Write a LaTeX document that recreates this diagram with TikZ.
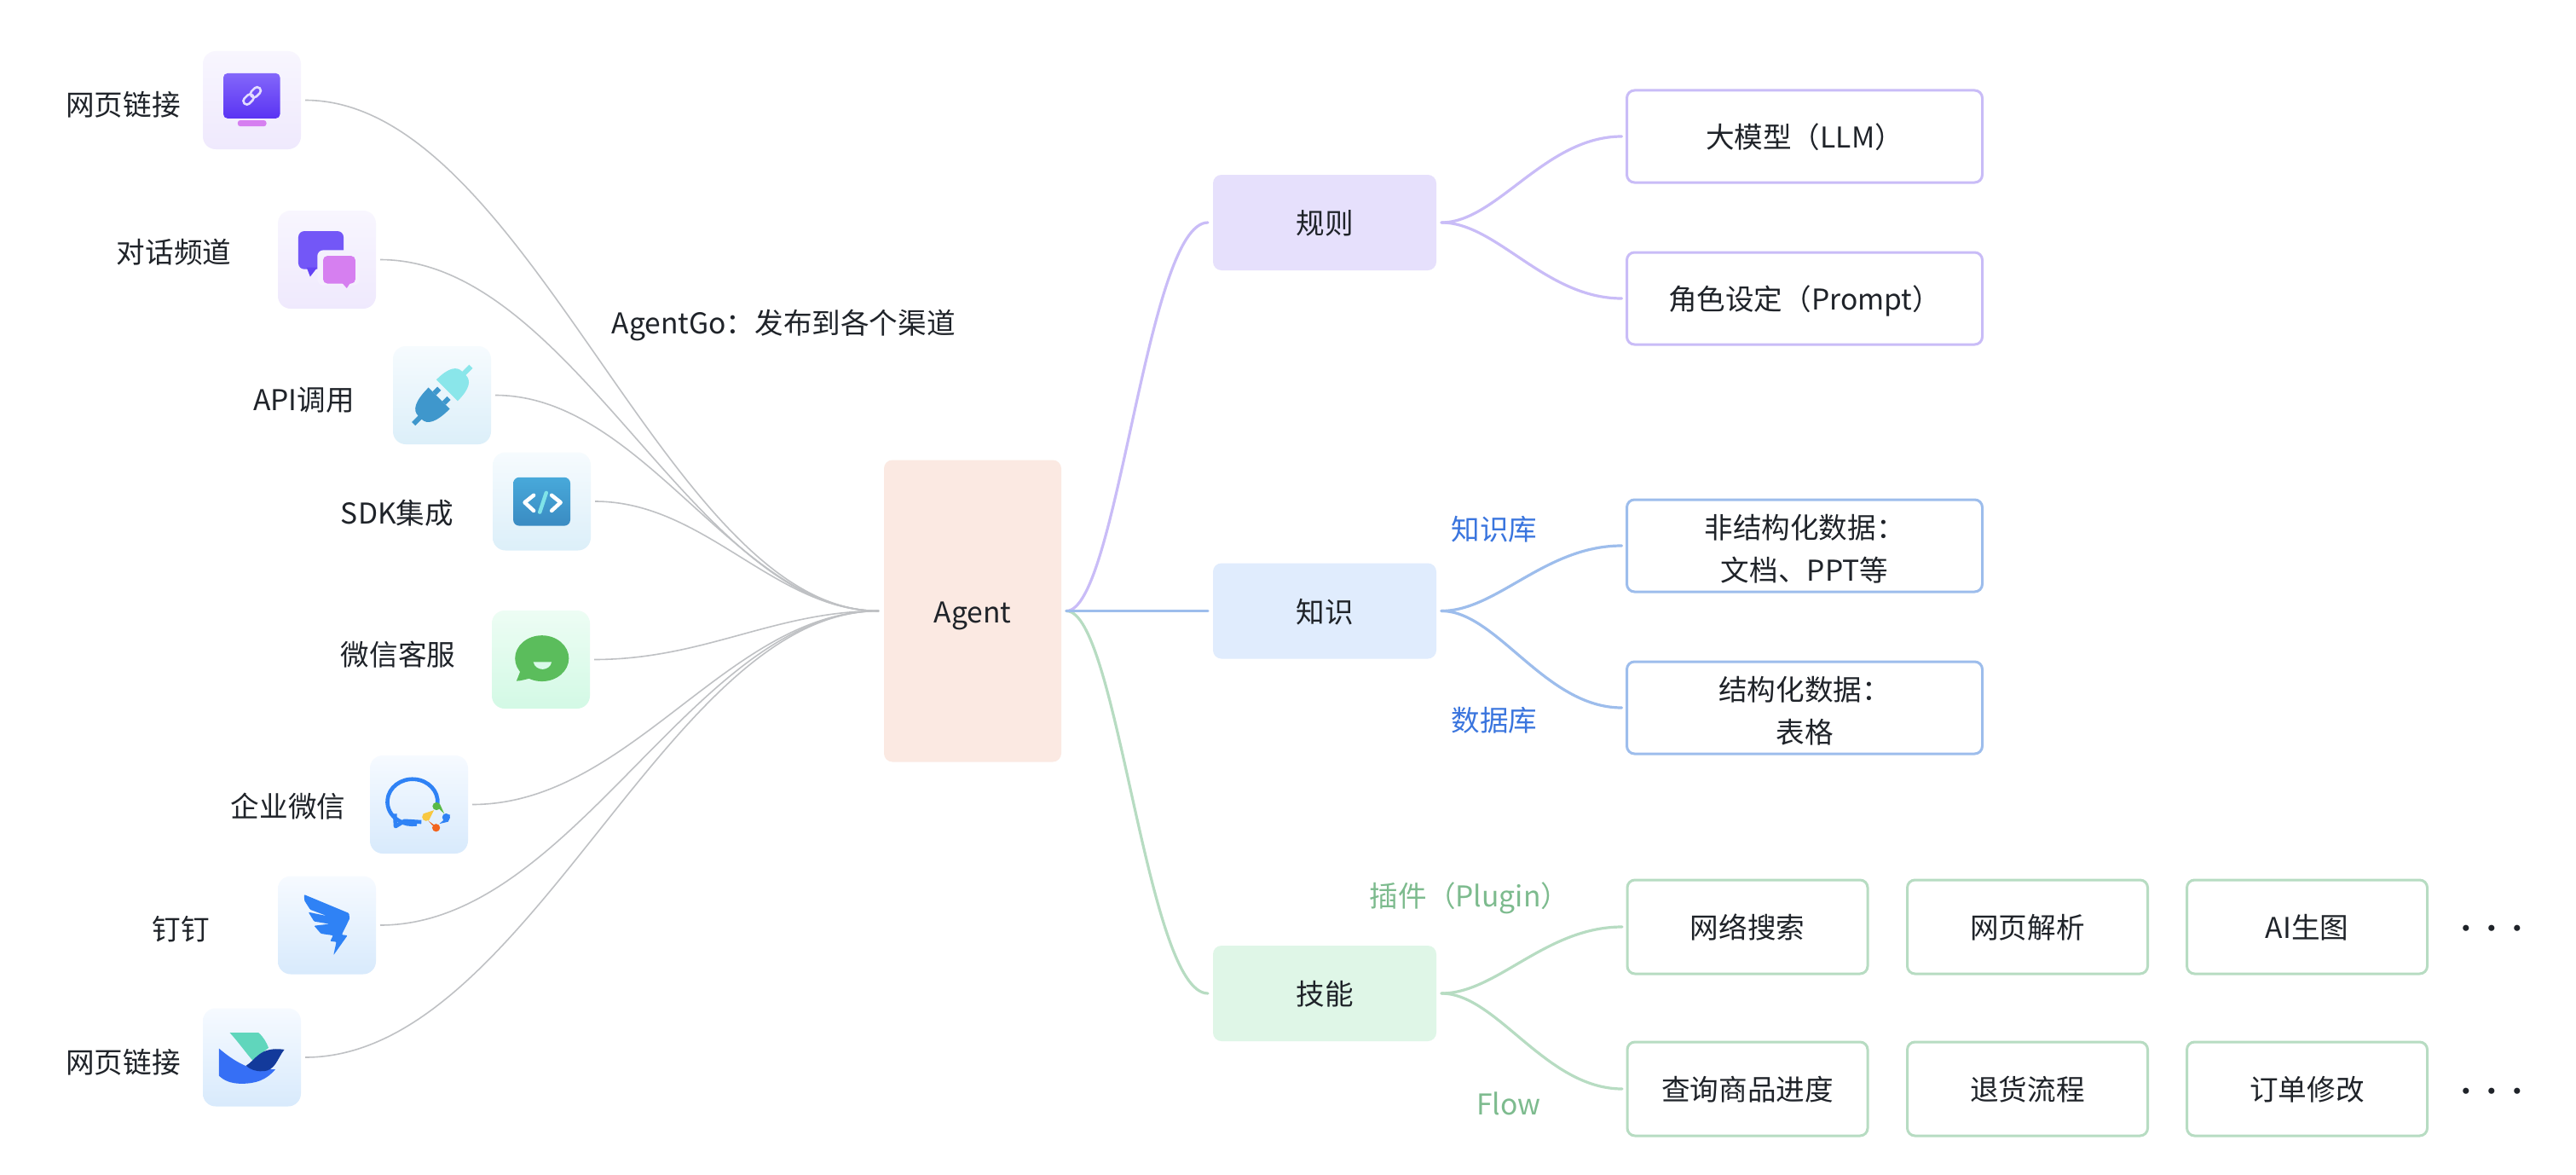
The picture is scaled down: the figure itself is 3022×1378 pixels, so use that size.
\documentclass[tikz,border=0pt]{standalone}
\usepackage{fontspec}
\setmainfont{Noto Sans CJK SC}
\definecolor{ink}{HTML}{1F2329}
\definecolor{wire}{HTML}{BFC1C4}
\definecolor{ruleline}{HTML}{C9BCF7}
\definecolor{knowline}{HTML}{9DBDEC}
\definecolor{skillline}{HTML}{B7DCC2}
\definecolor{knowtext}{HTML}{3A75DE}
\definecolor{skilltext}{HTML}{7DBB8E}
\definecolor{wingblue}{HTML}{2F82F5}
\definecolor{agentfill}{HTML}{FBE9E2}
\definecolor{rulefill}{HTML}{E6E0FC}
\definecolor{knowfill}{HTML}{E0ECFD}
\definecolor{skillfill}{HTML}{DFF6E7}
\definecolor{violetA}{HTML}{F8F6FE}
\definecolor{violetB}{HTML}{EFE9FD}
\definecolor{skyA}{HTML}{F6FBFE}
\definecolor{skyB}{HTML}{DCEFF9}
\definecolor{mintA}{HTML}{EDFDF4}
\definecolor{mintB}{HTML}{D3F9E5}
\definecolor{blueA}{HTML}{F6FAFF}
\definecolor{blueB}{HTML}{D8EAFC}
\definecolor{screenA}{HTML}{8367FA}
\definecolor{screenB}{HTML}{5A33F3}
\definecolor{orchid}{HTML}{D67FF0}
\definecolor{linkpale}{HTML}{E3DCFF}
\definecolor{bubbleviolet}{HTML}{7357F7}
\definecolor{tailviolet}{HTML}{6544F5}
\definecolor{tilepale}{HTML}{F4F0FD}
\definecolor{plugcyan}{HTML}{8AE6EA}
\definecolor{plugblue}{HTML}{3F97CC}
\definecolor{panelA}{HTML}{48A9DA}
\definecolor{panelB}{HTML}{3A8BC2}
\definecolor{slashcyan}{HTML}{7FE3E8}
\definecolor{smilegreen}{HTML}{5BBD5C}
\definecolor{smilepale}{HTML}{D9FAE9}
\definecolor{petalgreen}{HTML}{58B947}
\definecolor{petalred}{HTML}{F2641E}
\definecolor{petalyellow}{HTML}{F8C840}
\definecolor{birdteal}{HTML}{60D6BC}
\definecolor{birdblue}{HTML}{366FF5}
\definecolor{birdnavy}{HTML}{133A9B}
\tikzset{
  every node/.style={font=\fontsize{33.6}{50}\selectfont, text=ink, inner sep=0pt, text height=33pt, text depth=6pt},
  twolines/.style={align=center, text height=, text depth=},
  iconbase/.style={minimum size=115pt, rounded corners=15pt, outer sep=5pt, shading angle=45},
  iconviolet/.style={iconbase, top color=violetA, bottom color=violetB},
  iconsky/.style={iconbase, top color=skyA, bottom color=skyB},
  iconmint/.style={iconbase, top color=mintA, bottom color=mintB},
  iconblue/.style={iconbase, top color=blueA, bottom color=blueB},
  hubbox/.style={rounded corners=10pt, outer sep=6pt, minimum width=262pt, minimum height=112pt},
  leafbox/.style={draw, fill=white, line width=3pt, rounded corners=9pt, outer sep=6pt},
  widebox/.style={leafbox, minimum width=417pt, minimum height=108pt},
  smallbox/.style={leafbox, minimum width=282pt, minimum height=110pt},
  graylink/.style={draw=wire, line width=1.6pt},
  branch/.style={line width=3.2pt, line cap=round},
  glyphunits/.style={shift={(60,40)}, x=.42088pt, y=-.42088pt},
}
\begin{document}
\begin{tikzpicture}[x=1pt,y=-1pt]
\useasboundingbox (0,0) rectangle (3022,1378);
\fill[white] (0,0) rectangle (3022,1378);

% central node and the three hubs
\node[hubbox, fill=agentfill, minimum width=208pt, minimum height=354pt] (agent) at (1141,716.5) {Agent};
\node[hubbox, fill=rulefill] (rules) at (1554,261) {规则};
\node[hubbox, fill=knowfill] (know) at (1554,716.5) {知识};
\node[hubbox, fill=skillfill] (skill) at (1554,1165) {技能};

% leaves of the rule and knowledge hubs
\node[widebox, draw=ruleline] (llm) at (2117,160) {大模型（LLM）};
\node[widebox, draw=ruleline] (prompt) at (2117,350) {角色设定（Prompt）};
\node[widebox, draw=knowline, twolines] (docs) at (2117,640) {\rule{0pt}{36pt}非结构化数据：\\文档、PPT等};
\node[widebox, draw=knowline, twolines] (tables) at (2117,830) {\rule{0pt}{36pt}结构化数据：\\表格};

% skill rows
\node[smallbox, draw=skillline] (search) at (2050,1087) {网络搜索};
\node[smallbox, draw=skillline] (parse) at (2378.5,1087) {网页解析};
\node[smallbox, draw=skillline] (image) at (2706.5,1087) {AI生图};
\node[smallbox, draw=skillline] (query) at (2050,1277) {查询商品进度};
\node[smallbox, draw=skillline] (refund) at (2378.5,1277) {退货流程};
\node[smallbox, draw=skillline] (order) at (2706.5,1277) {订单修改};
\node (moretop) at (2923,1088) {·\hspace{-3.6pt}·\hspace{-3.6pt}·};
\node (morebottom) at (2923,1279) {·\hspace{-3.6pt}·\hspace{-3.6pt}·};

% annotations
\node[anchor=west] (channels) at (717.5,378) {AgentGo：发布到各个渠道};
\node[text=knowtext] (kbase) at (1753,620) {知识库};
\node[text=knowtext] (dbase) at (1753,844) {数据库};
\node[text=skilltext] (plugin) at (1724,1050) {插件（Plugin）};
\node[text=skilltext] (flow) at (1770,1294) {Flow};

% channel tiles
\node[iconviolet] (web) at (295.5,117.5) {};
\node[iconviolet] (chat) at (383.5,304.5) {};
\node[iconsky] (api) at (518.5,463.5) {};
\node[iconsky] (sdk) at (635.5,588) {};
\node[iconmint] (kefu) at (634.5,773.5) {};
\node[iconblue] (wecom) at (491.5,943.5) {};
\node[iconblue] (ding) at (383.5,1085) {};
\node[iconblue] (lark) at (295.5,1240) {};

% channel names
\node (tweb) at (144.5,122) {网页链接};
\node (tchat) at (204,295) {对话频道};
\node (tapi) at (356.5,468) {API调用};
\node (tsdk) at (466,601) {SDK集成};
\node (tkefu) at (467,767) {微信客服};
\node (twecom) at (338,945) {企业微信};
\node (tding) at (212,1089) {钉钉};
\node (tlark) at (144.5,1245) {网页链接};

% connectors from the channels into the agent
\draw[graylink] (web.east) to[out=0,in=180,out distance=262pt,in distance=249pt] (agent.west);
\draw[graylink] (chat.east) to[out=0,in=180,out distance=228pt,in distance=216pt] (agent.west);
\draw[graylink] (api.east) to[out=0,in=180,out distance=175pt,in distance=166pt] (agent.west);
\draw[graylink] (sdk.east) to[out=0,in=180,out distance=129pt,in distance=122pt] (agent.west);
\draw[graylink] (kefu.east) to[out=0,in=180,out distance=129pt,in distance=122pt] (agent.west);
\draw[graylink] (wecom.east) to[out=0,in=180,out distance=186pt,in distance=176pt] (agent.west);
\draw[graylink] (ding.east) to[out=0,in=180,out distance=228pt,in distance=216pt] (agent.west);
\draw[graylink] (lark.east) to[out=0,in=180,out distance=262pt,in distance=249pt] (agent.west);

% hub branches
\draw[branch, draw=ruleline] (agent.east) to[out=0,in=180,out distance=60pt,in distance=72pt] (rules.west);
\draw[branch, draw=skillline] (agent.east) to[out=0,in=180,out distance=60pt,in distance=72pt] (skill.west);
\draw[branch, draw=knowline] (agent.east) -- (know.west);
\draw[branch, draw=ruleline] (rules.east) to[out=0,in=180,out distance=65pt,in distance=90pt] (llm.west);
\draw[branch, draw=ruleline] (rules.east) to[out=0,in=180,out distance=65pt,in distance=90pt] (prompt.west);
\draw[branch, draw=knowline] (know.east) to[out=0,in=180,out distance=65pt,in distance=90pt] (docs.west);
\draw[branch, draw=knowline] (know.east) to[out=0,in=180,out distance=65pt,in distance=90pt] (tables.west);
\draw[branch, draw=skillline] (skill.east) to[out=0,in=180,out distance=65pt,in distance=90pt] (search.west);
\draw[branch, draw=skillline] (skill.east) to[out=0,in=180,out distance=65pt,in distance=90pt] (query.west);

% glyphs of the upper four tiles
\begin{scope}[glyphunits]
  % monitor with chain link
  \path[rounded corners=5pt, top color=screenA, bottom color=screenB] (480,109) rectangle (638,235);
  \fill[orchid, rounded corners=3pt] (520,240) rectangle (600,257);
  \begin{scope}[rotate around={45:(560,172)}]
    \draw[linkpale, line width=2.6pt, rounded corners=4pt] (530,162) rectangle (562,182);
    \draw[linkpale, line width=2.6pt, rounded corners=4pt] (558,162) rectangle (590,182);
  \end{scope}
  % pair of speech bubbles
  \fill[bubbleviolet, rounded corners=7pt] (689,549) -- (815,549) -- (815,655) -- (689,655) -- cycle;
  \fill[tailviolet] (712,650) -- (742,650) -- (722,676) -- cycle;
  \fill[tilepale, rounded corners=7pt] (742,602) rectangle (860,700);
  \fill[orchid, rounded corners=5pt] (758,618) -- (848,618) -- (848,695) -- (758,695) -- cycle;
  \fill[orchid] (808,690) -- (836,690) -- (824,708) -- cycle;
  % two halves of a plug
  \begin{scope}[shift={(1090,1006)}, rotate=45]
    \fill[plugcyan] (19,-42) -- (19,42) .. controls (68,42) and (86,28) .. (86,7) -- (113,7) -- (113,-7) -- (86,-7) .. controls (86,-28) and (68,-42) .. (19,-42) -- cycle;
    \fill[plugblue] (-12,-42) -- (-12,42) .. controls (-68,42) and (-88,28) .. (-88,7) -- (-113,7) -- (-113,-7) -- (-88,-7) .. controls (-88,-28) and (-68,-42) .. (-12,-42) -- cycle;
    \fill[plugblue] (-12,12) rectangle (7,26);
    \fill[plugblue] (-12,-26) rectangle (7,-12);
  \end{scope}
  % code panel
  \path[rounded corners=7pt, top color=panelA, bottom color=panelB] (1288,1235) rectangle (1447,1370);
  \draw[white, line width=4.5pt, line cap=round, line join=round] (1345,1285) -- (1320,1305) -- (1345,1328);
  \draw[white, line width=4.5pt, line cap=round, line join=round] (1395,1285) -- (1420,1305) -- (1395,1328);
  \draw[slashcyan, line width=4.5pt, line cap=round] (1380,1278) -- (1362,1332);
\end{scope}

% glyphs of the lower four tiles
\begin{scope}[glyphunits, shift={(0,1544.5)}]
  % smiling bubble
  \fill[smilegreen] (1368,195) ellipse [x radius=75, y radius=64];
  \fill[smilegreen] (1310,225) -- (1297,258) .. controls (1310,258) and (1325,252) .. (1340,250) -- cycle;
  \fill[smilepale] (1344,205) -- (1395,205) .. controls (1390,232) and (1350,232) .. (1344,205) -- cycle;
  % ring bubble with four petals
  \draw[wingblue, line width=4.6pt] (1077,600) arc [start angle=5, end angle=-280, x radius=70, y radius=63];
  \draw[wingblue, line width=4.6pt, line join=round] (958,628) -- (960,663) -- (985,648) -- (1032,651);
  \fill[petalgreen] (1074,607) circle [radius=11];
  \fill[petalgreen] (1066,600) -- (1084,602) -- (1096,628) -- cycle;
  \fill[wingblue] (1101,638) circle [radius=11];
  \fill[wingblue] (1112,630) -- (1107,650) -- (1082,656) -- cycle;
  \fill[petalred] (1073,667) circle [radius=11];
  \fill[petalred] (1062,660) -- (1083,670) -- (1052,648) -- cycle;
  \fill[petalyellow] (1045,637) circle [radius=11];
  \fill[petalyellow] (1037,628) -- (1052,648) -- (1067,618) -- cycle;
  % winged lightning mark
  \fill[wingblue, rounded corners=1pt] (705,853) -- (830,905) -- (832,920) -- (810,965) -- (826,967) -- (787,1022) -- (795,985) -- (778,983) -- (786,967) -- (752,962) -- (733,940) -- (776,935) -- (733,928) -- (717,902) -- (770,913) -- (722,895) -- (706,870) -- cycle;
  % bird mark
  \fill[birdteal] (498,1238) -- (578,1238) .. controls (592,1250) and (600,1265) .. (606,1280) -- (562,1316) .. controls (540,1290) and (520,1262) .. (498,1238) -- cycle;
  \fill[birdblue] (468,1282) .. controls (500,1310) and (540,1335) .. (575,1340) -- (625,1340) .. controls (600,1370) and (570,1380) .. (530,1380) .. controls (500,1380) and (480,1370) .. (468,1358) -- cycle;
  \fill[birdnavy] (543,1330) .. controls (570,1315) and (580,1275) .. (650,1285) .. controls (630,1310) and (625,1345) .. (590,1345) .. controls (570,1347) and (555,1340) .. (543,1330) -- cycle;
\end{scope}
\end{tikzpicture}
\end{document}
